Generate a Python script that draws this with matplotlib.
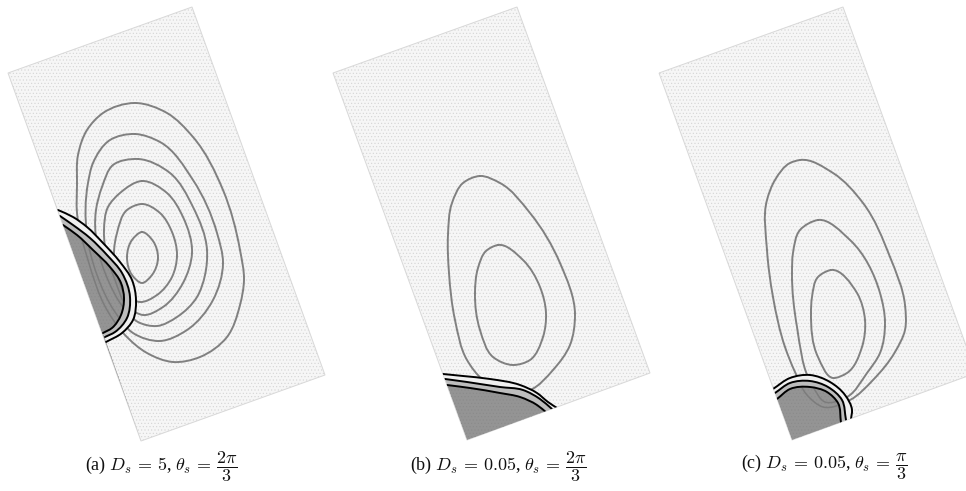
import matplotlib
matplotlib.use("Agg")
import matplotlib.pyplot as plt
import numpy as np
from matplotlib.path import Path
from matplotlib.patches import PathPatch

plt.rcParams['mathtext.fontset'] = 'cm'
plt.rcParams['font.family'] = ['Liberation Serif', 'DejaVu Serif']
plt.rcParams['hatch.linewidth'] = 0.4

# Domain outlines (clockwise from top-left)
rect_a = [(8, 73), (192, 7), (325, 375), (141, 441)]
rect_b = [(333, 73), (517, 7), (650, 373), (467, 440)]
rect_c = [(659, 73), (843, 7), (976, 373), (792, 440)]

# Panel (a) contours
a1 = [(135,103),(167,113),(193,137),(223,190),(240,250),(244,280),(240,305),(227,337),(200,357),(173,362),
      (147,353),(125,335),(107,310),(88,260),(77,213),(77,185),(78,155),(87,130),(103,113)]
a2 = [(135,134),(160,142),(193,180),(217,233),(223,263),(213,300),(187,330),(160,341),(133,333),(115,312),
      (97,275),(87,235),(88,183),(93,163),(110,140)]
a3 = [(138,159),(170,173),(193,207),(207,250),(205,275),(197,297),(177,317),(157,326),(138,322),(123,307),
      (108,280),(97,245),(96,210),(102,187),(113,165)]
a4 = [(142,181),(167,193),(183,217),(192,253),(183,283),(163,307),(143,315),(128,307),(115,280),(105,247),
      (104,230),(108,207),(120,193)]
a5 = [(142,204),(160,213),(172,232),(177,255),(172,277),(157,295),(140,302),(128,297),(117,273),(114,253),(117,233),(127,210)]
a6 = [(142,232),(153,241),(158,258),(152,275),(142,283),(132,275),(127,257),(132,240)]
# Panel (a) boundary layers
a_outer = [(58,210),(73,217),(87,227),(103,243),(120,262),(132,280),(136,300),(133,320),(122,333),(106,342)]
a_mid = [(60,216),(73,225),(90,238),(107,255),(122,273),(130,297),(127,318),(115,332),(105,337)]
a_inner = [(63,225),(77,235),(93,250),(110,267),(121,283),(124,298),(121,315),(112,328),(103,333)]

# Panel (b) contours
b1 = [(480,176),(500,183),(530,213),(560,263),(575,315),(570,345),(553,370),(530,390),
      (505,392),(483,380),(467,360),(455,320),(449,273),(448,235),(452,203),(463,183)]
b2 = [(498,245),(523,260),(540,287),(546,313),(543,337),(530,360),(513,365),(493,357),(480,330),
      (475,293),(478,268),(486,251)]
# Panel (b) boundary layers
b_outer = [(443,374),(463,376),(490,379),(520,385),(537,393),(548,402),(557,408)]
b_mid = [(445,379),(467,382),(500,387),(523,390),(540,399),(552,409)]
b_inner = [(447,385),(470,388),(500,393),(520,397),(537,405),(547,413)]

# Panel (c) contours
c1 = [(800,160),(833,173),(863,203),(890,257),(905,305),(905,330),(895,352),(873,380),(850,400),
      (823,407),(807,395),(795,372),(785,347),(773,297),(767,250),(767,200),(775,180),(790,163)]
c2 = [(818,220),(850,240),(880,293),(885,323),(880,353),(867,373),(847,397),(825,402),(812,385),
      (797,327),(792,273),(793,253),(800,230)]
c3 = [(831,270),(857,293),(865,320),(862,347),(847,373),(833,378),(818,357),(811,313),(812,297),(818,277)]
# Panel (c) boundary layers
c_outer = [(773,389),(790,378),(810,375),(830,382),(845,395),(852,410),(851,419)]
c_mid = [(775,393),(790,383),(810,381),(828,387),(842,400),(846,420)]
c_inner = [(777,399),(790,389),(810,387),(827,392),(838,403),(841,423)]

# Captions
cap_a = r"(a) $D_s\,=\,5$, $\theta_s\,=\,\dfrac{2\pi}{3}$"
cap_b = r"(b) $D_s\,=\,0.05$, $\theta_s\,=\,\dfrac{2\pi}{3}$"
cap_c = r"(c) $D_s\,=\,0.05$, $\theta_s\,=\,\dfrac{\pi}{3}$"
cap_x = [161.5, 498, 824]
cap_y = 467


def spline_path(pts, closed=False):
    p = np.asarray(pts, float)
    n = len(p)
    idx = (lambda k: k % n) if closed else (lambda k: min(max(k, 0), n - 1))
    def tangent(i):
        a, b, c = p[idx(i-1)], p[idx(i)], p[idx(i+1)]
        d1, d2 = np.linalg.norm(b-a), np.linalg.norm(c-b)
        if d1 == 0 or d2 == 0:
            return (c-a)/(d1+d2)
        return ((b-a)/d1*d2 + (c-b)/d2*d1)/(d1+d2)
    verts = [p[0]]
    codes = [Path.MOVETO]
    for i in range(n if closed else n-1):
        p1, p2 = p[idx(i)], p[idx(i+1)]
        d = np.linalg.norm(p2-p1)
        verts += [p1 + tangent(i)*d/3, p2 - tangent(i+1)*d/3, p2]
        codes += [Path.CURVE4]*3
    return Path(verts, codes)


def flat(pts):
    return spline_path(pts).to_polygons(closed_only=False)[0]


def line(ax, pts, color, lw, closed=False, clip=None, z=3):
    patch = PathPatch(spline_path(pts, closed), fill=False, edgecolor=color, lw=lw, zorder=z, capstyle='round')
    ax.add_patch(patch)
    if clip is not None:
        patch.set_clip_path(clip)
    return patch


def ribbon(ax, first, second, color, clip, z):
    ps, qs = flat(first), flat(second)[::-1]
    patch = ax.fill(np.r_[ps[:, 0], qs[:, 0]], np.r_[ps[:, 1], qs[:, 1]], fc=color, ec='none', zorder=z)[0]
    patch.set_clip_path(clip)


fig = plt.figure(figsize=(9.66, 4.91), dpi=100)
ax = fig.add_axes([0, 0, 1, 1])
ax.set_xlim(0, 966)
ax.set_ylim(491, 0)
ax.axis('off')

panels = [
    (rect_a, [a1, a2, a3, a4, a5, a6], a_outer, a_mid, a_inner, [rect_a[3], rect_a[0]]),
    (rect_b, [b1, b2], b_outer, b_mid, b_inner, [rect_b[3]]),
    (rect_c, [c1, c2, c3], c_outer, c_mid, c_inner, [rect_c[3]]),
]

for rect, contours, outer, mid, inner, corners in panels:
    dom = ax.fill(*zip(*rect), fc='#f6f6f6', ec='#d4d4d4', hatch='.....', lw=0, zorder=1)[0]
    ax.fill(*zip(*rect), fc='none', ec='#d8d8d8', lw=0.7, zorder=1.2)
    for c in contours:
        line(ax, c, '#808080', 1.4, closed=True, clip=dom, z=2)
    ribbon(ax, outer, mid, '#f0f0f0', dom, 2.5)
    ribbon(ax, mid, inner, '#bdbdbd', dom, 2.5)
    iv = flat(inner)
    poly = np.vstack([iv, np.array(corners, float)])
    dark = ax.fill(poly[:, 0], poly[:, 1], fc='#949494', ec='#8a8a8a', hatch='.....', lw=0, zorder=2.6)[0]
    dark.set_clip_path(dom)
    for c in contours:
        line(ax, c, '#7c7c7c', 1.1, closed=True, clip=dark, z=2.7)
    for b in (outer, mid, inner):
        line(ax, b, 'black', 1.4, clip=dom, z=4)

for x, s in zip(cap_x, [cap_a, cap_b, cap_c]):
    ax.text(x, cap_y, s, ha='center', va='center', fontsize=13, color='#111111')

fig.savefig('out.png', dpi=100)
